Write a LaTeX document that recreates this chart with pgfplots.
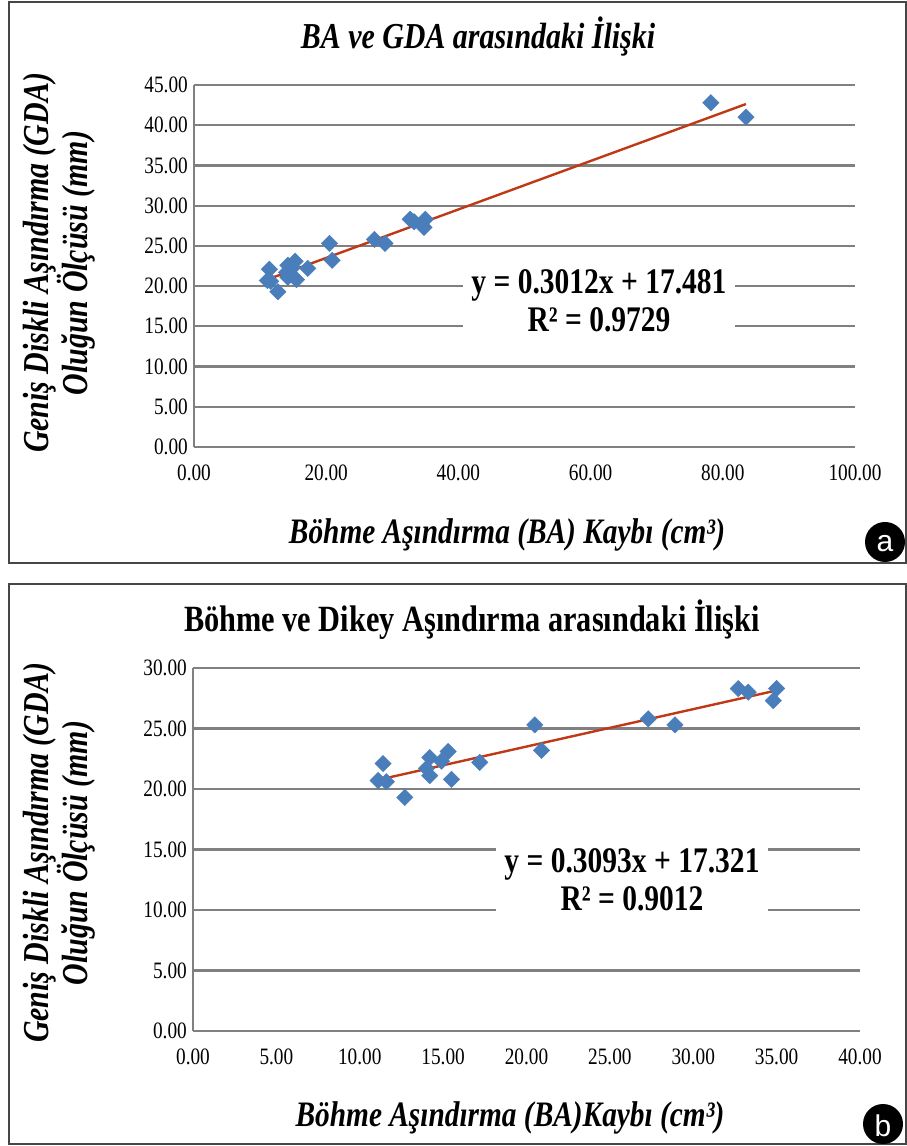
\documentclass[border=0pt]{standalone}
\usepackage{fontspec}
\setmainfont{Liberation Serif}[FakeStretch=0.82]
\newfontfamily\arialfont{Liberation Sans}
\usepackage{pgfplots}
\usepackage{pgfplotstable}
\pgfplotsset{compat=1.18}

\definecolor{gridgray}{RGB}{128,128,128}
\definecolor{framegray}{RGB}{70,70,70}
\definecolor{markblue}{RGB}{74,126,187}
\definecolor{trendred}{RGB}{192,57,22}

\pgfplotstableread{
x y
11.1 20.7
11.4 22.1
11.6 20.6
12.7 19.3
14.2 22.6
14.0 21.7
14.2 21.1
15.3 23.1
14.9 22.3
15.5 20.8
17.2 22.2
20.5 25.3
20.9 23.2
27.3 25.8
28.9 25.3
32.7 28.3
33.3 28.0
35.0 28.3
34.8 27.3
}\dataB

\pgfplotstableread{
x y
11.1 20.7
11.4 22.1
11.6 20.6
12.7 19.3
14.2 22.6
14.0 21.7
14.2 21.1
15.3 23.1
14.9 22.3
15.5 20.8
17.2 22.2
20.5 25.3
20.9 23.2
27.3 25.8
28.9 25.3
32.7 28.3
33.3 28.0
35.0 28.3
34.8 27.3
78.2 42.8
83.5 41.0
}\dataA

\pgfplotsset{
  excelstyle/.style={
    scale only axis,
    anchor=south west,
    clip=false,
    ymajorgrids,
    grid style={gridgray, line width=2.3pt},
    axis x line*=bottom,
    axis y line*=left,
    axis line style={gridgray, line width=2.3pt, -},
    major tick length=0pt,
    tick label style={font=\fontsize{23.5}{23.5}\selectfont},
    xticklabel style={anchor=center, yshift=-26pt},
    yticklabel style={anchor=east, inner sep=0pt, xshift=-6pt},
  },
  markstyle/.style={only marks, mark=square*, mark size=5.8pt,
    mark options={rotate=45, fill=markblue, draw=markblue}},
}

\begin{document}
\begin{tikzpicture}[x=1pt,y=1pt]
\useasboundingbox (0,0) rectangle (907,1146);
\fill[white] (0,0) rectangle (907,1146);

% panel frames
\draw[framegray, line width=2pt] (9,583) rectangle (906,1144);
\draw[framegray, line width=2pt] (9,2) rectangle (906,562);

% ---------- chart a ----------
\begin{axis}[excelstyle,
  at={(194pt,699pt)}, width=661pt, height=362pt,
  xmin=0, xmax=100, ymin=0, ymax=45,
  xtick={0,20,40,60,80,100},
  xticklabels={0.00,20.00,40.00,60.00,80.00,100.00},
  ytick={0,5,10,15,20,25,30,35,40,45},
  yticklabels={0.00,5.00,10.00,15.00,20.00,25.00,30.00,35.00,40.00,45.00},
]
\addplot[markstyle] table[x=x,y=y] {\dataA};
\addplot[trendred, line width=2.4pt, no marks] coordinates {(11.1,20.824) (83.5,42.631)};
\end{axis}

\node[fill=white, inner sep=0pt, minimum width=272pt, minimum height=78pt,
  align=center, font=\fontsize{36}{38}\selectfont\bfseries] at (599,845)
  {y = 0.3012x + 17.481\\R² = 0.9729};

\node[font=\fontsize{36.5}{36}\selectfont\bfseries\itshape] at (478,1109)
  {BA ve GDA arasındaki İlişki};
\node[font=\fontsize{35.8}{35}\selectfont\bfseries\itshape] at (507,611)
  {Böhme Aşındırma (BA) Kaybı (cm³)};
\node[rotate=90, align=center, font=\fontsize{36.5}{27}\selectfont\bfseries\itshape] at (59,883)
  {Geniş Diskli Aşındırma (GDA)\\Oluğun Ölçüsü (mm)};

\fill[black] (885,604) circle (20);
\node[white, font=\arialfont\fontsize{30}{30}\selectfont] at (885,602) {a};

% ---------- chart b ----------
\begin{axis}[excelstyle,
  at={(193pt,115pt)}, width=667pt, height=363pt,
  xmin=0, xmax=40, ymin=0, ymax=30,
  xtick={0,5,10,15,20,25,30,35,40},
  xticklabels={0.00,5.00,10.00,15.00,20.00,25.00,30.00,35.00,40.00},
  ytick={0,5,10,15,20,25,30},
  yticklabels={0.00,5.00,10.00,15.00,20.00,25.00,30.00},
]
\addplot[markstyle] table[x=x,y=y] {\dataB};
\addplot[trendred, line width=2.4pt, no marks] coordinates {(11.1,20.754) (35.0,28.147)};
\end{axis}

\node[fill=white, inner sep=0pt, minimum width=272pt, minimum height=78pt,
  align=center, font=\fontsize{36}{38}\selectfont\bfseries] at (632,266)
  {y = 0.3093x + 17.321\\R² = 0.9012};

\node[font=\fontsize{37}{36}\selectfont\bfseries] at (472,526)
  {Böhme ve Dikey Aşındırma arasındaki İlişki};
\node[font=\fontsize{35.8}{35}\selectfont\bfseries\itshape] at (510,28)
  {Böhme Aşındırma (BA)Kaybı (cm³)};
\node[rotate=90, align=center, font=\fontsize{36.5}{27}\selectfont\bfseries\itshape] at (59,293)
  {Geniş Diskli Aşındırma (GDA)\\Oluğun Ölçüsü (mm)};

\fill[black] (883,22) circle (20);
\node[white, font=\arialfont\fontsize{30}{30}\selectfont] at (883,20) {b};
\end{tikzpicture}
\end{document}
